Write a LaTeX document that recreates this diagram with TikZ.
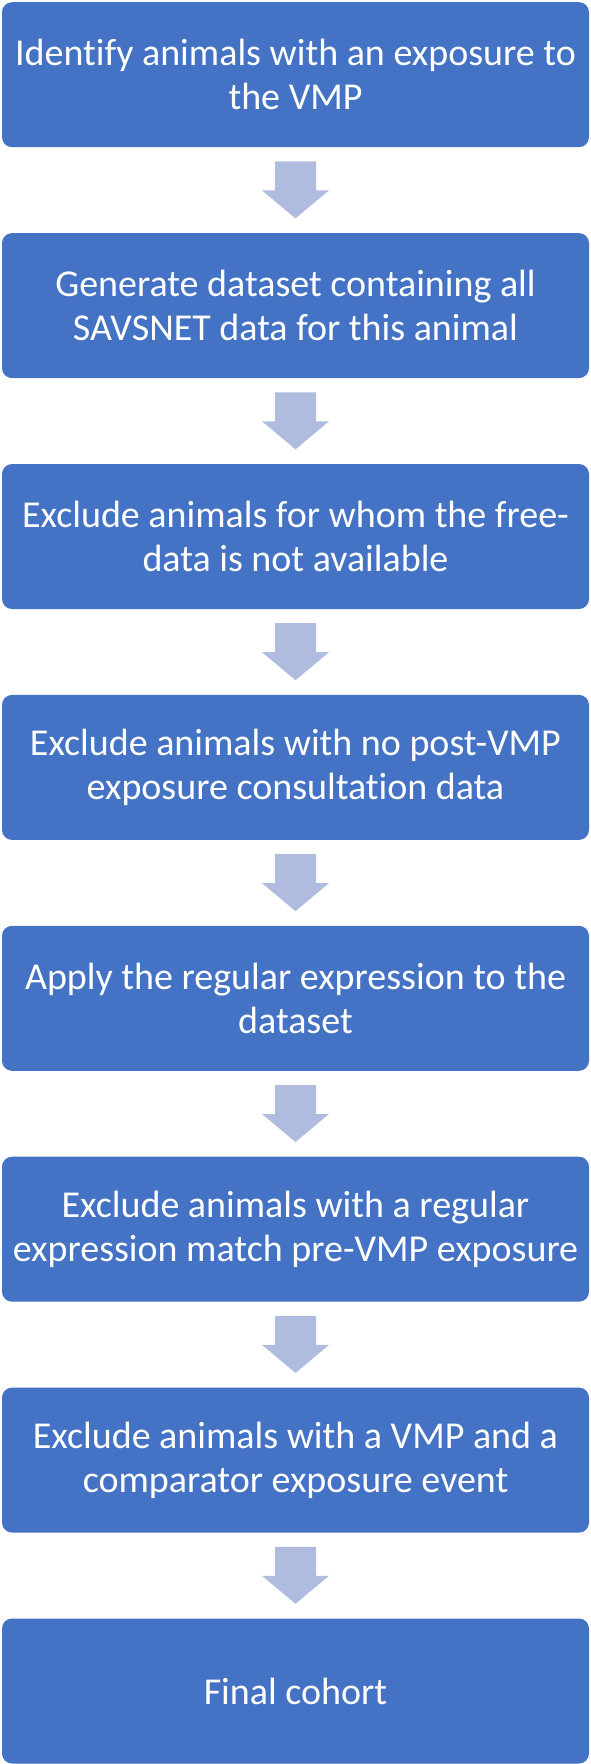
\documentclass[tikz,border=0pt]{standalone}
\usepackage{fontspec}
\setmainfont{Carlito}[Ligatures=NoCommon]
\usepackage{xcolor}
\usepackage{tikz}
\usetikzlibrary{positioning,calc}
\definecolor{stepblue}{HTML}{4472C4}
\definecolor{arrowblue}{HTML}{AFBCE0}

\begin{document}
\begin{tikzpicture}[x=1pt, y=-1pt, node distance=85.5pt,
    stepbox/.style={rectangle, rounded corners=10pt, fill=stepblue, draw=none,
                    minimum width=587pt, minimum height=145pt, inner sep=0pt,
                    text=white, align=center, font=\fontsize{38}{44}\selectfont}]
  \useasboundingbox (0,0) rectangle (591,1764);
  % the steps, top to bottom
  \node[stepbox, anchor=north] (s1) at (295.5,2) {Identify animals with an exposure to\\the VMP};
  \node[stepbox, below=of s1] (s2) {Generate dataset containing all\\SAVSNET data for this animal};
  \node[stepbox, below=of s2] (s3) {Exclude animals for whom the free-\\data is not available};
  \node[stepbox, below=of s3] (s4) {Exclude animals with no post-VMP\\exposure consultation data};
  \node[stepbox, below=of s4] (s5) {Apply the regular expression to the\\dataset};
  \node[stepbox, below=of s5] (s6) {Exclude animals with a regular\\expression match pre-VMP exposure};
  \node[stepbox, below=of s6] (s7) {Exclude animals with a VMP and a\\comparator exposure event};
  \node[stepbox, below=of s7] (s8) {Final cohort};
  % the block arrows between them
  \foreach \i in {1,...,7}{
    \fill[arrowblue] ($(s\i.south)+(-20.5,14)$) -- ($(s\i.south)+(20.5,14)$)
      -- ($(s\i.south)+(20.5,43)$) -- ($(s\i.south)+(33.5,43)$)
      -- ($(s\i.south)+(0,71)$) -- ($(s\i.south)+(-33.5,43)$)
      -- ($(s\i.south)+(-20.5,43)$) -- cycle;}
\end{tikzpicture}
\end{document}
